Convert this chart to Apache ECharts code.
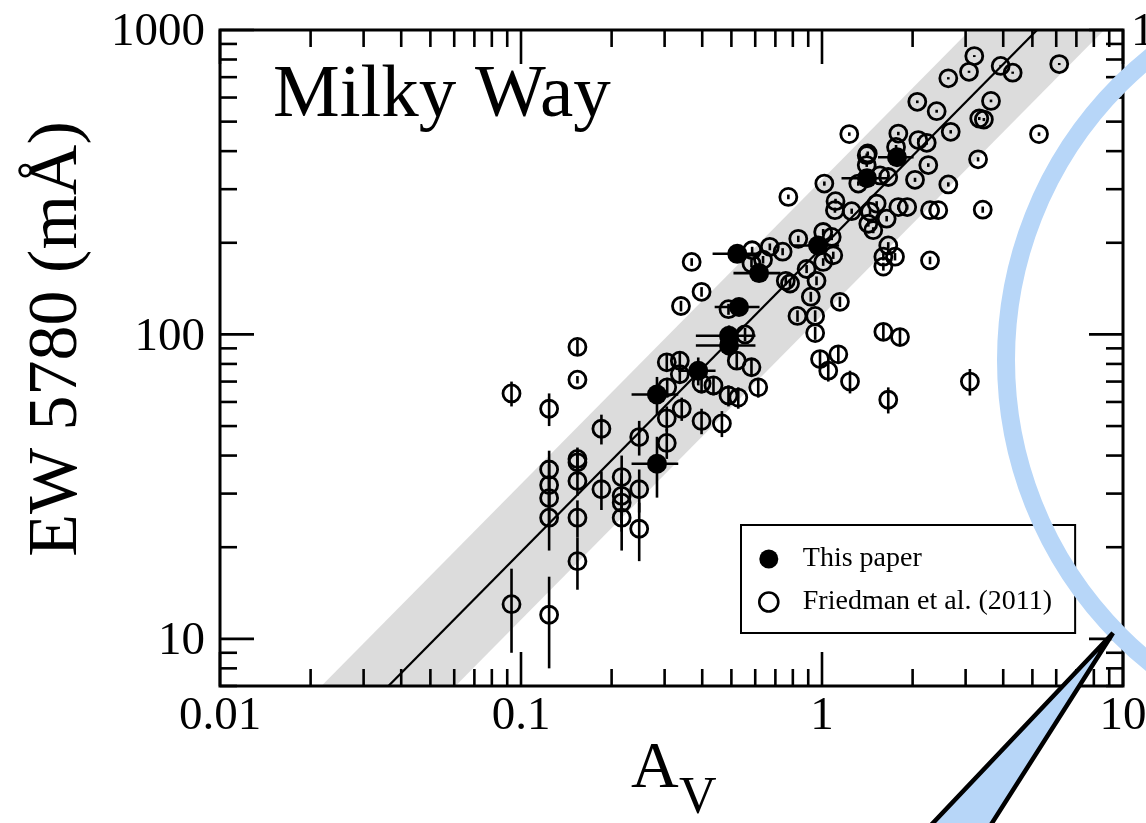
<!DOCTYPE html>
<html>
<head>
<meta charset="utf-8">
<script src="https://cdn.jsdelivr.net/npm/echarts/dist/echarts.min.js"></script>
<style>
  html, body { margin: 0; padding: 0; background: #ffffff; }
  #chart { width: 1146px; height: 823px; }
</style>
</head>
<body>
<div id="chart"></div>
<script>
// EW(5780) against visual extinction A_V for Milky Way sightlines.

const FONT = '"Liberation Serif", "Times New Roman", serif';

// Axis ranges and tick marks (log-log)
const xAxisMin = 0.01, xAxisMax = 10;
const yAxisMin = 7, yAxisMax = 1000;
const xMajorTicks = [0.01, 0.1, 1, 10];
const xTickLabels = ['0.01', '0.1', '1', '10'];
const xMinorTicks = [0.02, 0.03, 0.04, 0.05, 0.06, 0.07, 0.08, 0.09,
                     0.2, 0.3, 0.4, 0.5, 0.6, 0.7, 0.8, 0.9,
                     2, 3, 4, 5, 6, 7, 8, 9];
const yMajorTicks = [10, 100, 1000];
const yTickLabels = ['10', '100', '1000'];
const yMinorTicks = [7, 8, 9, 20, 30, 40, 50, 60, 70, 80, 90,
                     200, 300, 400, 500, 600, 700, 800, 900];

// Power-law fit EW = fitCoef * A_V^fitSlope, with a multiplicative scatter band
const fitCoef = 193;
const fitSlope = 1.0;
const bandFactor = 1.67;

// This paper: [A_V, sigma A_V, EW (mA), sigma EW]
const paperPoints = [
  [0.283, 0.05, 63.5, 9],
  [0.283, 0.05, 37.6, 8.5],
  [0.388, 0.055, 76, 8],
  [0.491, 0.11, 99, 8],
  [0.491, 0.11, 92, 8],
  [0.530, 0.09, 123, 8],
  [0.618, 0.11, 159, 8],
  [0.523, 0.09, 184, 8],
  [0.970, 0.17, 196, 8],
  [1.411, 0.25, 326, 8],
  [1.775, 0.24, 382, 8]
];

// Friedman et al. (2011): [A_V, EW (mA), sigma EW]
const friedmanPoints = [
  [0.154, 91, 5], [0.154, 71, 2], [0.093, 64, 6], [0.124, 57, 7], [0.185, 49, 5.5],
  [0.247, 46, 6], [0.305, 81, 5], [0.306, 67, 5], [0.305, 53, 5], [0.305, 44, 5],
  [0.124, 36, 5.5], [0.124, 32, 5.5], [0.124, 29, 5.5], [0.124, 25, 5.5],
  [0.154, 39, 3.5], [0.154, 38, 3.5], [0.154, 33, 3.5], [0.154, 25, 3.5], [0.154, 18, 3.5],
  [0.185, 31, 4.5], [0.216, 34, 6], [0.216, 29.5, 5.5], [0.216, 28, 5.5], [0.216, 25, 5.5],
  [0.247, 31, 5], [0.247, 23, 5], [0.093, 13, 4], [0.124, 12, 4],
  [0.369, 173, 5], [0.398, 138, 5], [0.340, 124, 5], [0.586, 189, 5], [0.671, 194, 5],
  [0.740, 187, 5], [0.834, 206, 5], [0.583, 171, 5], [0.637, 176, 5], [0.758, 150, 5],
  [0.783, 147, 5], [0.489, 121, 5], [0.555, 100, 5], [0.521, 82, 5], [0.583, 78, 5],
  [0.614, 67, 5], [0.337, 82, 5], [0.337, 74, 5], [0.398, 69, 5], [0.436, 68, 5],
  [0.489, 63, 5], [0.527, 62, 5], [0.342, 57, 5], [0.398, 52, 5], [0.465, 51, 5],
  [0.889, 164, 5], [0.829, 115, 5], [0.918, 133, 5], [0.949, 101, 5],
  [0.773, 283, 5], [1.018, 313, 5], [1.408, 388, 5], [1.408, 360, 5], [1.320, 313, 5],
  [1.660, 329, 5], [2.255, 360, 5], [2.037, 322, 5], [2.628, 311, 5], [1.109, 274, 5],
  [1.104, 256, 5], [1.255, 254, 5], [1.519, 269, 5], [1.444, 253, 5], [1.793, 262, 5],
  [1.919, 262, 5], [2.285, 256, 5], [2.434, 256, 5], [1.640, 240, 5], [1.425, 231, 5],
  [1.480, 220, 5], [1.009, 217, 5], [1.077, 209, 5], [1.660, 196, 5], [1.599, 180, 5],
  [1.748, 180, 5], [1.599, 167, 5], [2.285, 175, 5], [1.090, 182, 5], [1.009, 173, 5],
  [0.959, 150, 5], [0.949, 115, 5], [1.599, 102, 6], [1.816, 98, 6], [0.985, 83, 5],
  [1.133, 86, 5], [1.049, 76, 6], [1.239, 70, 6], [1.660, 61, 6], [1.147, 128, 5],
  [3.206, 821, 6], [3.079, 729, 6], [2.628, 694, 6], [3.923, 762, 6], [4.30, 724, 6],
  [6.14, 773, 6], [2.073, 581, 6], [2.404, 541, 6], [3.643, 585, 6], [3.33, 512, 6],
  [3.45, 508, 6], [1.232, 455, 6], [1.793, 457, 6], [2.089, 435, 6], [2.228, 426, 6],
  [2.677, 463, 6], [5.26, 455, 6], [1.419, 393, 6], [1.762, 413, 6], [3.30, 376, 6],
  [1.559, 333, 6], [3.42, 257, 6], [3.10, 70, 7]
];

const fitEW = (av) => fitCoef * Math.pow(av, fitSlope);
const fitLine = [xAxisMin, xAxisMax].map(av => [av, fitEW(av)]);

const chart = echarts.init(document.getElementById('chart'), null, { renderer: 'canvas' });

function seg(x1, y1, x2, y2, w) {
  return { type: 'line', shape: { x1, y1, x2, y2 }, style: { stroke: '#000', lineWidth: w } };
}

// Scatter band around the fit
function renderBand(params, api) {
  const xs = [xAxisMin, xAxisMax];
  const upper = xs.map(av => api.coord([av, fitEW(av) * bandFactor]));
  const lower = xs.map(av => api.coord([av, fitEW(av) / bandFactor])).reverse();
  return { type: 'polygon', shape: { points: upper.concat(lower) }, style: { fill: '#dcdcdc' } };
}

// Vertical error bars on the literature points
function renderFriedmanErr(params, api) {
  const av = api.value(0), ew = api.value(1), e = api.value(2);
  const p1 = api.coord([av, ew - e]);
  const p2 = api.coord([av, ew + e]);
  return seg(p1[0], p1[1], p2[0], p2[1], 2.6);
}

// Cross error bars on the new measurements
function renderPaperErr(params, api) {
  const av = api.value(0), sav = api.value(1), ew = api.value(2), sew = api.value(3);
  const h1 = api.coord([av - sav, ew]);
  const h2 = api.coord([av + sav, ew]);
  const v1 = api.coord([av, ew - sew]);
  const v2 = api.coord([av, ew + sew]);
  return {
    type: 'group',
    children: [seg(h1[0], h1[1], h2[0], h2[1], 2.6), seg(v1[0], v1[1], v2[0], v2[1], 2.6)]
  };
}

// Box frame, inward ticks on all four sides and tick labels
function renderFrame(params, api) {
  const cs = params.coordSys;
  const left = cs.x, top = cs.y, right = cs.x + cs.width, bottom = cs.y + cs.height;
  const children = [];
  const majorLen = 34, minorLen = 17, tickW = 2.6;
  const xTick = (v, len) => {
    const px = api.coord([v, 100])[0];
    children.push(seg(px, bottom, px, bottom - len, tickW));
    children.push(seg(px, top, px, top + len, tickW));
  };
  const yTick = (v, len) => {
    const py = api.coord([1, v])[1];
    children.push(seg(left, py, left + len, py, tickW));
    children.push(seg(right, py, right - len, py, tickW));
  };
  xMinorTicks.forEach(v => xTick(v, minorLen));
  xMajorTicks.forEach(v => xTick(v, majorLen));
  yMinorTicks.forEach(v => yTick(v, minorLen));
  yMajorTicks.forEach(v => yTick(v, majorLen));
  children.push({
    type: 'rect',
    shape: { x: left, y: top, width: cs.width, height: cs.height },
    style: { fill: null, stroke: '#000', lineWidth: 3 }
  });
  xMajorTicks.forEach((v, i) => {
    const px = api.coord([v, 100])[0];
    children.push({
      type: 'text',
      style: { x: px, y: bottom + 31, text: xTickLabels[i], font: '47px ' + FONT,
               fill: '#000', align: 'center', verticalAlign: 'middle' }
    });
  });
  yMajorTicks.forEach((v, i) => {
    const py = api.coord([1, v])[1];
    children.push({
      type: 'text',
      style: { x: left - 15, y: py + 3, text: yTickLabels[i], font: '47px ' + FONT,
               fill: '#000', align: 'right', verticalAlign: 'middle' }
    });
  });
  return { type: 'group', children };
}

const option = {
  animation: false,
  backgroundColor: '#ffffff',
  grid: { left: 220, top: 30, width: 903, height: 656, containLabel: false },
  xAxis: {
    type: 'log', logBase: 10, min: xAxisMin, max: xAxisMax,
    axisLine: { show: false }, axisTick: { show: false },
    axisLabel: { show: false }, splitLine: { show: false }
  },
  yAxis: {
    type: 'log', logBase: 10, min: yAxisMin, max: yAxisMax,
    axisLine: { show: false }, axisTick: { show: false },
    axisLabel: { show: false }, splitLine: { show: false }
  },
  legend: {
    orient: 'vertical',
    left: 741, top: 525,
    padding: [20, 23, 17, 17],
    itemWidth: 58, itemHeight: 19, itemGap: 15,
    borderColor: '#000', borderWidth: 2,
    selectedMode: false,
    textStyle: { fontFamily: FONT, fontSize: 28, color: '#000' },
    data: [
      { name: 'This paper', icon: 'circle', itemStyle: { color: '#000' } },
      { name: 'Friedman et al. (2011)', icon: 'circle',
        itemStyle: { color: '#fff', borderColor: '#000', borderWidth: 2.6 } }
    ]
  },
  series: [
    {
      name: 'band', type: 'custom', renderItem: renderBand, clip: true, silent: true, z: 1,
      data: [[1, 100]]
    },
    {
      name: 'fit', type: 'line', data: fitLine, symbol: 'none', clip: true, silent: true, z: 2,
      lineStyle: { color: '#000', width: 2.2 }
    },
    {
      name: 'friedmanErr', type: 'custom', renderItem: renderFriedmanErr, clip: true, silent: true, z: 3,
      encode: { x: 0, y: 1 }, data: friedmanPoints
    },
    {
      name: 'Friedman et al. (2011)', type: 'scatter', z: 4, silent: true,
      symbol: 'circle', symbolSize: 17,
      itemStyle: { color: 'rgba(0,0,0,0)', borderColor: '#000', borderWidth: 2.8, opacity: 1 },
      data: friedmanPoints.map(p => [p[0], p[1]])
    },
    {
      name: 'paperErr', type: 'custom', renderItem: renderPaperErr, clip: true, silent: true, z: 5,
      encode: { x: 0, y: 2 }, data: paperPoints
    },
    {
      name: 'This paper', type: 'scatter', z: 6, silent: true,
      symbol: 'circle', symbolSize: 20,
      itemStyle: { color: '#000', opacity: 1 },
      data: paperPoints.map(p => [p[0], p[2]])
    },
    {
      name: 'frame', type: 'custom', renderItem: renderFrame, clip: false, silent: true, z: 10,
      data: [[1, 100]]
    }
  ],
  graphic: [
    {
      type: 'text', x: 273, y: 96, z: 20,
      style: { text: 'Milky Way', font: '75px ' + FONT, fill: '#000', align: 'left', verticalAlign: 'middle' }
    },
    {
      type: 'text', x: 58, y: 339, rotation: Math.PI / 2, z: 20,
      style: { text: 'EW 5780 (mÅ)', font: '70px ' + FONT, fill: '#000', align: 'center', verticalAlign: 'middle' }
    },
    {
      type: 'text', x: 631, y: 770, z: 20,
      style: { text: 'A', font: '66px ' + FONT, fill: '#000', align: 'left', verticalAlign: 'middle' }
    },
    {
      type: 'text', x: 679, y: 799, z: 20,
      style: { text: 'V', font: '52px ' + FONT, fill: '#000', align: 'left', verticalAlign: 'middle' }
    },
    {
      type: 'text', x: 1131, y: 33, z: 20,
      style: { text: '1000', font: '47px ' + FONT, fill: '#000', align: 'left', verticalAlign: 'middle' }
    },
    {
      type: 'circle', z: 30, silent: true,
      shape: { cx: 1396, cy: 360, r: 390 },
      style: { fill: null, stroke: '#b7d6f8', lineWidth: 18 }
    },
    {
      type: 'polygon', z: 31, silent: true,
      shape: { points: [[1113, 633], [860, 900], [943, 900]] },
      style: { fill: '#b7d6f8' }
    },
    {
      type: 'polyline', z: 32, silent: true,
      shape: { points: [[860, 900], [1113, 633], [943, 900]] },
      style: { stroke: '#000', lineWidth: 4.5, lineJoin: 'miter', fill: null }
    }
  ]
};

chart.setOption(option);
</script>
</body>
</html>
